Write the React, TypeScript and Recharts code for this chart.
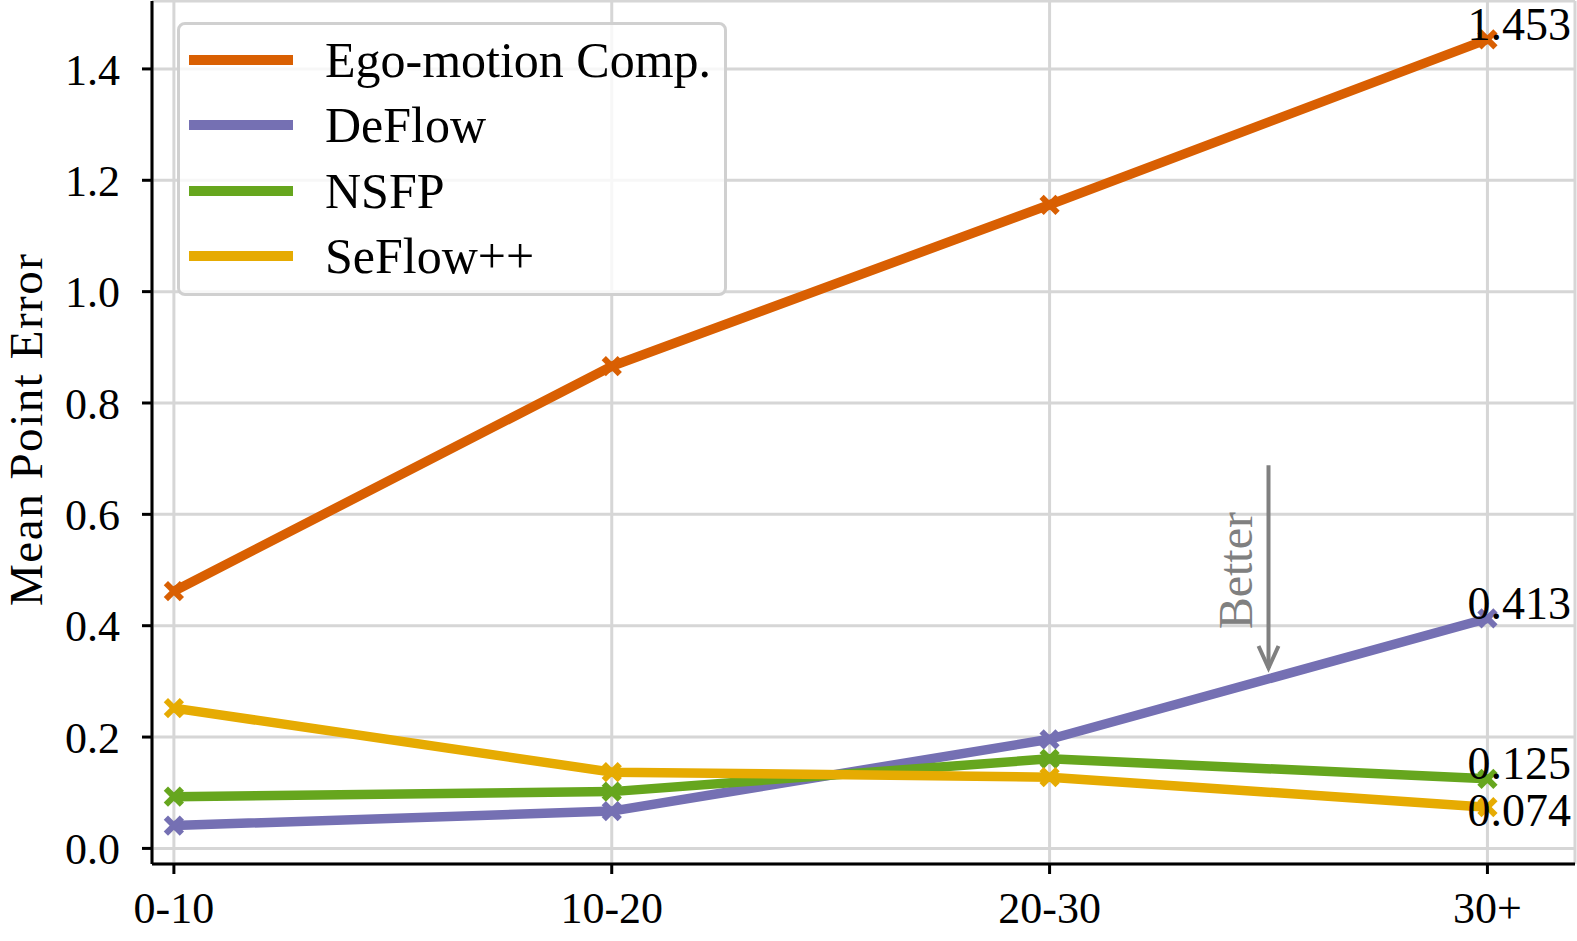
import React from 'react';
import { LineChart, Line, XAxis, YAxis, CartesianGrid, Legend, ReferenceLine } from 'recharts';

const categories = ['0-10', '10-20', '20-30', '30+'];
const egoValues = [0.462, 0.866, 1.156, 1.453];
const deflowValues = [0.041, 0.067, 0.196, 0.413];
const nsfpValues = [0.093, 0.102, 0.161, 0.125];
const seflowValues = [0.252, 0.137, 0.128, 0.074];
const yTicks = [0, 0.2, 0.4, 0.6, 0.8, 1.0, 1.2, 1.4];
const xTicks = [0, 1, 2, 3];

const series = [
  { key: 'ego', name: 'Ego-motion Comp.', color: '#D95F02', labelDy: 1 },
  { key: 'deflow', name: 'DeFlow', color: '#7570B3', labelDy: 1 },
  { key: 'nsfp', name: 'NSFP', color: '#66A61E', labelDy: 0 },
  { key: 'seflow', name: 'SeFlow++', color: '#E6AB02', labelDy: 19 },
];

const data = categories.map((c, i) => ({
  x: i,
  ego: egoValues[i],
  deflow: deflowValues[i],
  nsfp: nsfpValues[i],
  seflow: seflowValues[i],
}));

const FONT = 'Liberation Serif';
const X_DOMAIN = [-0.05, 3.2];
const Y_DOMAIN = [-0.028, 1.522];

const makeDot = (color: string, k: string) => (props: any) => {
  const { cx, cy, index } = props;
  if (cx == null || cy == null) return <g key={`${k}-${index}`} />;
  const s = 8;
  return (
    <g key={`${k}-${index}`}>
      <line x1={cx - s} y1={cy - s} x2={cx + s} y2={cy + s} stroke={color} strokeWidth={6} />
      <line x1={cx - s} y1={cy + s} x2={cx + s} y2={cy - s} stroke={color} strokeWidth={6} />
    </g>
  );
};

const makeLabel = (dy: number) => (props: any) => {
  const { x, y, value, index } = props;
  if (index !== categories.length - 1) return null;
  return (
    <text x={x - 20} y={y + dy} fontSize={46} fontFamily={FONT} fill="#000" textAnchor="start">
      {Number(value).toFixed(3)}
    </text>
  );
};

const renderLegend = () => (
  <div
    style={{
      position: 'absolute',
      left: 0,
      top: 0,
      width: 550,
      height: 274,
      boxSizing: 'border-box',
      border: '3px solid #d0d0d0',
      borderRadius: 8,
      background: 'rgba(255,255,255,0.8)',
    }}
  >
    {series.map((s, i) => {
      const c = 35 + i * 65.3;
      return (
        <React.Fragment key={s.key}>
          <div style={{ position: 'absolute', left: 9, top: c - 5, width: 104, height: 10, background: s.color }} />
          <span
            style={{
              position: 'absolute',
              left: 145,
              top: c - 25,
              fontSize: 50,
              lineHeight: '50px',
              fontFamily: FONT,
              color: '#000',
              whiteSpace: 'nowrap',
            }}
          >
            {s.name}
          </span>
        </React.Fragment>
      );
    })}
  </div>
);

const arrowShape = (props: any) => {
  const { x1, y1, x2, y2 } = props;
  const top = Math.min(y1, y2);
  const tip = Math.max(y1, y2);
  const x = x1;
  const mid = (top + tip) / 2 + 4;
  return (
    <g>
      <line x1={x} y1={top} x2={x} y2={tip} stroke="#808080" strokeWidth={4} />
      <polyline
        points={`${x - 10},${tip - 22} ${x},${tip} ${x + 10},${tip - 22}`}
        fill="none"
        stroke="#808080"
        strokeWidth={4}
      />
      <text
        x={x - 16}
        y={mid}
        transform={`rotate(-90 ${x - 16} ${mid})`}
        textAnchor="middle"
        fontSize={48}
        fontFamily={FONT}
        fill="#808080"
      >
        Better
      </text>
    </g>
  );
};

export default function App() {
  return (
    <div style={{ position: 'absolute', left: 0, top: 0, background: '#fff' }}>
      <LineChart width={1577} height={941} data={data} margin={{ top: 1, right: 2, left: 0, bottom: 0 }}>
        <CartesianGrid stroke="#d6d6d6" strokeWidth={3} />
        <XAxis
          dataKey="x"
          type="number"
          domain={X_DOMAIN}
          ticks={xTicks}
          allowDataOverflow
          tickFormatter={(v: number) => categories[v]}
          height={77}
          tickSize={10}
          tickMargin={18}
          axisLine={{ stroke: '#000', strokeWidth: 3 }}
          tickLine={{ stroke: '#000', strokeWidth: 3 }}
          tick={{ fontSize: 44, fill: '#000', fontFamily: FONT }}
        />
        <XAxis
          xAxisId="top"
          orientation="top"
          type="number"
          domain={X_DOMAIN}
          allowDataOverflow
          height={0}
          tick={false}
          tickLine={false}
          axisLine={{ stroke: '#000', strokeWidth: 3 }}
        />
        <YAxis
          type="number"
          domain={Y_DOMAIN}
          ticks={yTicks}
          allowDataOverflow
          width={152}
          tickSize={10}
          tickMargin={22}
          tickFormatter={(v: number) => v.toFixed(1)}
          axisLine={{ stroke: '#000', strokeWidth: 3 }}
          tickLine={{ stroke: '#000', strokeWidth: 3 }}
          tick={{ fontSize: 44, fill: '#000', fontFamily: FONT }}
          label={{
            content: () => (
              <text
                x={42}
                y={430}
                transform="rotate(-90 42 430)"
                textAnchor="middle"
                fontSize={47}
                textLength={352}
                lengthAdjust="spacing"
                fontFamily={FONT}
                fill="#000"
              >
                Mean Point Error
              </text>
            ),
          }}
        />
        <YAxis
          yAxisId="right"
          orientation="right"
          type="number"
          domain={Y_DOMAIN}
          allowDataOverflow
          width={0}
          tick={false}
          tickLine={false}
          axisLine={{ stroke: '#000', strokeWidth: 3 }}
        />
        <ReferenceLine
          segment={[
            { x: 2.5, y: 0.688 },
            { x: 2.5, y: 0.324 },
          ]}
          stroke="#808080"
          shape={arrowShape}
          ifOverflow="visible"
        />
        {series.map((s) => (
          <Line
            key={s.key}
            type="linear"
            dataKey={s.key}
            name={s.name}
            stroke={s.color}
            strokeWidth={9.5}
            strokeLinejoin="round"
            dot={makeDot(s.color, s.key)}
            activeDot={false}
            isAnimationActive={false}
            label={makeLabel(s.labelDy)}
          />
        ))}
        <Legend
          layout="horizontal"
          verticalAlign="middle"
          align="center"
          content={renderLegend}
          wrapperStyle={{ position: 'absolute', left: 177, top: 22, width: 550, height: 274 }}
        />
      </LineChart>
    </div>
  );
}
